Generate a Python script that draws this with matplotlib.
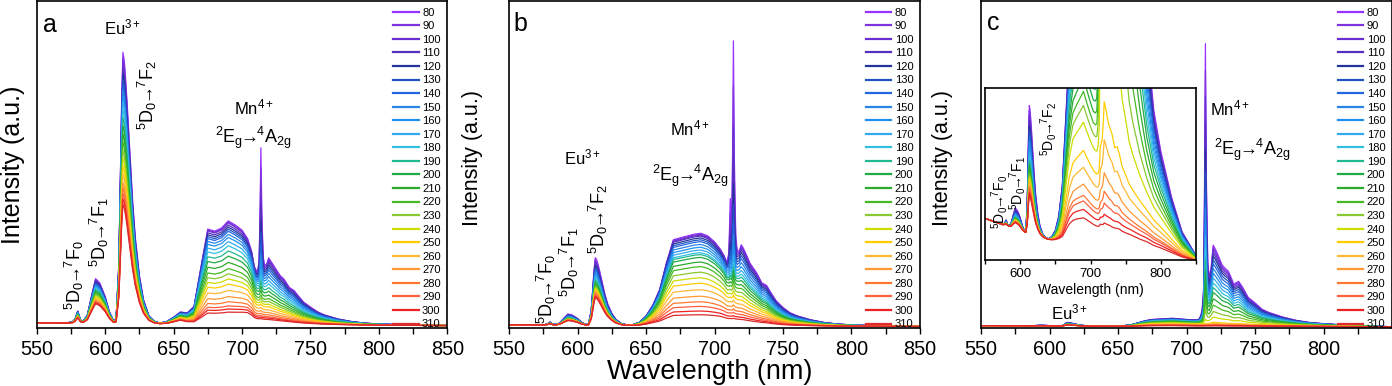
import numpy as np
import matplotlib
matplotlib.use('Agg')
import matplotlib.pyplot as plt
from matplotlib.ticker import MultipleLocator

plt.rcParams['font.family'] = ['Liberation Sans', 'DejaVu Sans']
plt.rcParams['mathtext.fontset'] = 'custom'
plt.rcParams['mathtext.rm'] = 'Liberation Sans'
plt.rcParams['mathtext.it'] = 'Liberation Sans:italic'
plt.rcParams['mathtext.bf'] = 'Liberation Sans:bold'
plt.rcParams['mathtext.default'] = 'regular'

# temperatures (K) and legend colours
temps = [80, 90, 100, 110, 120, 130, 140, 150, 160, 170, 180, 190,
         200, 210, 220, 230, 240, 250, 260, 270, 280, 290, 300, 310]
colors = ['#9933ff', '#7f33dd', '#6a2fd0', '#5530c0', '#23339a', '#2255c8',
          '#2266dd', '#2a85e6', '#1e90f0', '#33aaee', '#33c0e0', '#22b890',
          '#22aa44', '#2daa2d', '#44bb22', '#88c830', '#ccdd00', '#ffcc00',
          '#ffb833', '#ff9933', '#ff7733', '#ff6040', '#ee2222', '#dd2a2a']

# wavelength grid (nm)
wl = np.array([
    550, 560, 570, 576, 578, 580, 582, 584, 587, 590,
    593, 596, 598, 600, 603, 606, 608, 610, 611, 612,
    613, 614, 615, 616, 618, 620, 622, 625, 628, 632,
    636, 640, 645, 650, 655, 660, 665, 670, 675, 680,
    685, 690, 695, 700, 704, 707, 709, 710.5, 711.5, 712.5,
    713.2, 713.8, 714.5, 715.5, 716.5, 718, 719.5, 721, 723, 726,
    728, 730.5, 732.5, 734.5, 738, 741, 745, 750, 755, 760,
    770, 780, 790, 800, 815, 830, 850])

# background
bg = np.array([
    1.00, 0.97, 0.94, 0.92, 0.92, 0.91, 0.91, 0.90, 0.89, 0.88,
    0.87, 0.86, 0.86, 0.85, 0.84, 0.83, 0.82, 0.82, 0.81, 0.81,
    0.81, 0.81, 0.81, 0.81, 0.80, 0.80, 0.79, 0.78, 0.77, 0.76,
    0.75, 0.74, 0.73, 0.72, 0.71, 0.70, 0.70, 0.69, 0.68, 0.68,
    0.67, 0.66, 0.66, 0.65, 0.64, 0.64, 0.64, 0.64, 0.64, 0.64,
    0.64, 0.64, 0.64, 0.64, 0.64, 0.63, 0.63, 0.63, 0.63, 0.63,
    0.63, 0.62, 0.62, 0.62, 0.62, 0.62, 0.61, 0.60, 0.60, 0.59,
    0.57, 0.56, 0.54, 0.53, 0.51, 0.49, 0.47])

# Eu3+ 5D0 -> 7FJ lines
eu = np.array([
    0, 0, 0, 0.004, 0.015, 0.045, 0.012, 0.008, 0.03, 0.1,
    0.165, 0.15, 0.125, 0.1, 0.045, 0.012, 0.015, 0.22, 0.5, 0.8,
    1.0, 0.97, 0.9, 0.82, 0.64, 0.46, 0.32, 0.18, 0.09, 0.03,
    0.01, 0.004, 0.006, 0.018, 0.03, 0.015, 0.005, 0, 0, 0,
    0, 0, 0.004, 0.012, 0.02, 0.01, 0.003, 0, 0, 0,
    0, 0, 0, 0, 0, 0, 0, 0, 0, 0,
    0, 0, 0, 0, 0, 0, 0, 0, 0, 0,
    0, 0, 0, 0, 0, 0, 0])

# Mn4+ vibronic sidebands
vib = np.array([
    0, 0, 0, 0, 0, 0, 0, 0, 0, 0,
    0, 0, 0, 0, 0, 0, 0, 0, 0, 0,
    0, 0, 0, 0, 0, 0, 0, 0, 0, 0,
    0, 0, 0, 0, 0, 0, 0, 0, 0, 0,
    0, 0, 0, 0, 0, 0.005, 0.01, 0.03, 0.05, 0.09,
    0.17, 0.26, 0.35, 0.43, 0.48, 0.7, 1.0, 0.95, 0.87, 0.74,
    0.7, 0.66, 0.58, 0.49, 0.53, 0.45, 0.32, 0.25, 0.17, 0.13,
    0.075, 0.037, 0.017, 0.008, 0.002, 0, 0])

# Mn4+ zero-phonon line (R line) and the 711 nm satellite
zpl = np.array([
    0, 0, 0, 0, 0, 0, 0, 0, 0, 0,
    0, 0, 0, 0, 0, 0, 0, 0, 0, 0,
    0, 0, 0, 0, 0, 0, 0, 0, 0, 0,
    0, 0, 0, 0, 0, 0, 0, 0, 0, 0,
    0, 0, 0, 0, 0, 0, 0, 0.01, 0.03, 0.1,
    0.5, 1.0, 0.45, 0.1, 0.03, 0, 0, 0, 0, 0,
    0, 0, 0, 0, 0, 0, 0, 0, 0, 0,
    0, 0, 0, 0, 0, 0, 0])
r2 = np.array([
    0, 0, 0, 0, 0, 0, 0, 0, 0, 0,
    0, 0, 0, 0, 0, 0, 0, 0, 0, 0,
    0, 0, 0, 0, 0, 0, 0, 0, 0, 0,
    0, 0, 0, 0, 0, 0, 0, 0, 0, 0,
    0, 0, 0, 0, 0, 0, 0, 0.15, 1.0, 0.3,
    0, 0, 0, 0, 0, 0, 0, 0, 0, 0,
    0, 0, 0, 0, 0, 0, 0, 0, 0, 0,
    0, 0, 0, 0, 0, 0, 0])

# Mn4+ broad band, one shape per sample
band_a = np.array([
    0, 0, 0, 0, 0, 0, 0, 0, 0, 0,
    0, 0, 0, 0, 0, 0, 0, 0, 0, 0,
    0, 0, 0, 0, 0, 0, 0, 0, 0, 0,
    0, 0, 0.01, 0.02, 0.04, 0.07, 0.16, 0.55, 0.92, 0.9,
    0.93, 1.0, 0.95, 0.88, 0.78, 0.68, 0.55, 0.5, 0.48, 0.47,
    0.46, 0.45, 0.44, 0.43, 0.42, 0.41, 0.4, 0.38, 0.36, 0.33,
    0.3, 0.28, 0.26, 0.24, 0.2, 0.17, 0.14, 0.11, 0.085, 0.065,
    0.04, 0.025, 0.015, 0.01, 0.005, 0.002, 0])
band_b = np.array([
    0, 0, 0, 0, 0, 0, 0, 0, 0, 0,
    0, 0, 0, 0, 0, 0, 0, 0, 0, 0,
    0, 0, 0, 0, 0, 0, 0, 0, 0, 0,
    0, 0.005, 0.03, 0.09, 0.2, 0.38, 0.68, 0.93, 0.95, 0.97,
    0.99, 1.0, 0.97, 0.9, 0.82, 0.75, 0.68, 0.66, 0.65, 0.64,
    0.63, 0.63, 0.62, 0.61, 0.6, 0.58, 0.56, 0.54, 0.5, 0.44,
    0.41, 0.37, 0.34, 0.31, 0.27, 0.22, 0.17, 0.12, 0.09, 0.07,
    0.045, 0.028, 0.018, 0.012, 0.006, 0.003, 0])
band_c = np.array([
    0, 0, 0, 0, 0, 0, 0, 0, 0, 0,
    0, 0, 0, 0, 0, 0, 0, 0, 0, 0,
    0, 0, 0, 0, 0, 0, 0, 0, 0, 0,
    0, 0, 0.01, 0.03, 0.08, 0.2, 0.45, 0.7, 0.85, 0.9,
    0.95, 1.0, 0.92, 0.85, 0.8, 0.77, 0.76, 0.75, 0.75, 0.75,
    0.75, 0.75, 0.74, 0.74, 0.73, 0.72, 0.72, 0.71, 0.7, 0.69,
    0.68, 0.67, 0.66, 0.66, 0.64, 0.63, 0.61, 0.59, 0.56, 0.54,
    0.49, 0.43, 0.36, 0.3, 0.2, 0.1, 0.02])

# relative intensity of each component vs temperature
eu_frac_a = [1.0, 0.98, 0.96, 0.94, 0.92, 0.9, 0.88, 0.86, 0.84, 0.82, 0.79, 0.76,
             0.73, 0.7, 0.67, 0.64, 0.61, 0.58, 0.55, 0.52, 0.5, 0.48, 0.46, 0.44]
eu_frac_b = [1.0, 0.97, 0.94, 0.91, 0.88, 0.85, 0.82, 0.79, 0.76, 0.73, 0.7, 0.67,
             0.64, 0.61, 0.59, 0.57, 0.55, 0.53, 0.51, 0.49, 0.47, 0.45, 0.43, 0.41]
eu_frac_c = [1.0, 0.96, 0.92, 0.88, 0.84, 0.8, 0.76, 0.72, 0.68, 0.64, 0.6, 0.57,
             0.54, 0.51, 0.48, 0.46, 0.44, 0.42, 0.4, 0.38, 0.36, 0.34, 0.32, 0.3]
band_frac_a = [1.0, 0.99, 0.98, 0.96, 0.94, 0.92, 0.9, 0.87, 0.84, 0.8, 0.76, 0.71,
               0.66, 0.6, 0.54, 0.49, 0.44, 0.39, 0.33, 0.27, 0.22, 0.18, 0.15, 0.12]
band_frac_b = [1.0, 0.99, 0.98, 0.97, 0.95, 0.93, 0.91, 0.88, 0.85, 0.82, 0.79, 0.77,
               0.74, 0.69, 0.64, 0.58, 0.52, 0.46, 0.39, 0.32, 0.26, 0.21, 0.16, 0.12]
band_frac_c = [1.0, 0.98, 0.96, 0.94, 0.92, 0.9, 0.87, 0.84, 0.81, 0.78, 0.74, 0.7,
               0.65, 0.6, 0.55, 0.5, 0.44, 0.34, 0.28, 0.22, 0.18, 0.16, 0.13, 0.1]
vib_frac_a = [1.0, 0.97, 0.93, 0.88, 0.82, 0.75, 0.68, 0.6, 0.52, 0.44, 0.37, 0.3,
              0.24, 0.19, 0.15, 0.12, 0.09, 0.07, 0.05, 0.04, 0.03, 0.02, 0.015, 0.01]
vib_frac_b = [1.0, 0.97, 0.93, 0.88, 0.82, 0.75, 0.68, 0.6, 0.52, 0.44, 0.37, 0.3,
              0.24, 0.19, 0.15, 0.12, 0.09, 0.07, 0.05, 0.04, 0.03, 0.02, 0.015, 0.01]
vib_frac_c = [1.0, 0.97, 0.94, 0.9, 0.86, 0.81, 0.76, 0.7, 0.64, 0.58, 0.52, 0.46,
              0.4, 0.32, 0.24, 0.16, 0.09, 0.03, 0.02, 0.012, 0.008, 0.005, 0.003, 0.002]
zpl_frac_a = [1.0, 0.85, 0.7, 0.57, 0.45, 0.36, 0.28, 0.21, 0.16, 0.12, 0.09, 0.07,
              0.05, 0.04, 0.03, 0.025, 0.02, 0.015, 0.012, 0.01, 0.008, 0.006, 0.004, 0.003]
zpl_frac_b = [1.0, 0.8, 0.62, 0.48, 0.37, 0.28, 0.21, 0.16, 0.12, 0.09, 0.07, 0.055,
              0.045, 0.037, 0.03, 0.025, 0.02, 0.016, 0.013, 0.01, 0.008, 0.006, 0.004, 0.003]
zpl_frac_c = [1.0, 0.9, 0.8, 0.7, 0.6, 0.52, 0.45, 0.39, 0.34, 0.29, 0.25, 0.21,
              0.17, 0.12, 0.08, 0.045, 0.01, 0.001, 0.0005, 0.0003, 0.0002, 0.0001, 0.0001, 0.0001]

# peak heights at 80 K (percent of axis height)
amp_a = dict(bg=1.6, eu=83, band=31.7, vib=7.8, zpl=37.8, r2=0.0)
amp_b = dict(bg=1.0, eu=20.7, band=28.3, vib=9.0, zpl=67.0, r2=0.27)
amp_c = dict(bg=0.72, eu=1.14, band=2.5, vib=23.1, zpl=78.6, r2=0.0)

panels = [
    ('a', amp_a, band_a, eu_frac_a, band_frac_a, vib_frac_a, zpl_frac_a),
    ('b', amp_b, band_b, eu_frac_b, band_frac_b, vib_frac_b, zpl_frac_b),
    ('c', amp_c, band_c, eu_frac_c, band_frac_c, vib_frac_c, zpl_frac_c),
]


def spectra(p):
    name, amp, band, euf, bf, vf, zf = p
    out = []
    for i in range(len(temps)):
        y = (amp['bg'] * bg + amp['eu'] * euf[i] * eu
             + amp['band'] * bf[i] * band + amp['vib'] * vf[i] * vib
             + amp['zpl'] * zf[i] * (zpl + amp['r2'] * r2))
        out.append(y)
    return out


W, H = 1392, 386
fig = plt.figure(figsize=(W / 100, H / 100), dpi=100)


def box(l, r, t, b):
    return [l / W, 1 - b / H, (r - l) / W, (b - t) / H]


ax_a = fig.add_axes(box(36.7, 447.3, 1, 328))
ax_b = fig.add_axes(box(509, 920, 1, 328))
ax_c = fig.add_axes(box(981, 1392, 1, 328))
axes = [ax_a, ax_b, ax_c]

for ax, p in zip(axes, panels):
    for i, y in enumerate(spectra(p)):
        ax.plot(wl, y, color=colors[i], lw=0.9, label=str(temps[i]))
    ax.set_xlim(550, 850)
    ax.set_ylim(0, 100)
    ax.set_yticks([])
    ax.xaxis.set_major_locator(MultipleLocator(50))
    ax.xaxis.set_minor_locator(MultipleLocator(25))
    ax.tick_params(axis='x', which='both', direction='out', length=4, width=1.0,
                   labelsize=14.3, pad=4.5)
    for s in ax.spines.values():
        s.set_linewidth(1.2)
    leg = ax.legend(loc='upper right', fontsize=8, frameon=False, labelspacing=0.32,
                    handlelength=2.3, handletextpad=0.3, borderaxespad=0.1, borderpad=0.5)
    for h in leg.legend_handles:
        h.set_linewidth(1.6)

ax_c.set_xticks([550, 600, 650, 700, 750, 800])
ax_c.set_xticks([575, 625, 675, 725, 775, 825], minor=True)

ax_a.set_ylabel('Intensity (a.u.)', fontsize=18, va='center')
ax_a.yaxis.set_label_coords(-0.0577, 0.5)
ax_b.set_ylabel('Intensity (a.u.)', fontsize=15.5, va='center')
ax_b.yaxis.set_label_coords(-0.0876, 0.52)
ax_c.set_ylabel('Intensity (a.u.)', fontsize=15.5, va='center')
ax_c.yaxis.set_label_coords(-0.0925, 0.52)
ax_b.set_xlabel('Wavelength (nm)', fontsize=19.5, va='center')
ax_b.xaxis.set_label_coords(0.489, -0.135)

f0 = r'$^{5}D_{0}\!\!\rightarrow\!\!{}^{7}F_{0}$'
f1 = r'$^{5}D_{0}\!\!\rightarrow\!\!{}^{7}F_{1}$'
f2 = r'$^{5}D_{0}\!\!\rightarrow\!\!{}^{7}F_{2}$'
mn = r'$^{2}E_{g}\!\!\rightarrow\!\!{}^{4}A_{2g}$'
kw = dict(ha='center', va='center')

ax_a.text(0.0324, 0.927, 'a', fontsize=18, transform=ax_a.transAxes, **kw)
ax_a.text(0.208, 0.92, 'Eu$^{3+}$', fontsize=12, transform=ax_a.transAxes, **kw)
ax_a.text(0.269, 0.713, f2, fontsize=13, rotation=90, transform=ax_a.transAxes, **kw)
ax_a.text(0.152, 0.294, f1, fontsize=13, rotation=90, transform=ax_a.transAxes, **kw)
ax_a.text(0.091, 0.162, f0, fontsize=13, rotation=90, transform=ax_a.transAxes, **kw)
ax_a.text(0.528, 0.674, 'Mn$^{4+}$', fontsize=12, transform=ax_a.transAxes, **kw)
ax_a.text(0.527, 0.583, mn, fontsize=13, transform=ax_a.transAxes, **kw)

ax_b.text(0.028, 0.931, 'b', fontsize=18, transform=ax_b.transAxes, **kw)
ax_b.text(0.179, 0.523, 'Eu$^{3+}$', fontsize=12, transform=ax_b.transAxes, **kw)
ax_b.text(0.217, 0.332, f2, fontsize=13, rotation=90, transform=ax_b.transAxes, **kw)
ax_b.text(0.148, 0.2, f1, fontsize=13, rotation=90, transform=ax_b.transAxes, **kw)
ax_b.text(0.091, 0.119, f0, fontsize=13, rotation=90, transform=ax_b.transAxes, **kw)
ax_b.text(0.44, 0.609, 'Mn$^{4+}$', fontsize=12, transform=ax_b.transAxes, **kw)
ax_b.text(0.44, 0.466, mn, fontsize=13, transform=ax_b.transAxes, **kw)

ax_c.text(0.029, 0.933, 'c', fontsize=18, transform=ax_c.transAxes, **kw)
ax_c.text(0.605, 0.67, 'Mn$^{4+}$', fontsize=12, transform=ax_c.transAxes, **kw)
ax_c.text(0.659, 0.544, mn, fontsize=13, transform=ax_c.transAxes, **kw)
ax_c.text(0.215, 0.047, 'Eu$^{3+}$', fontsize=12, transform=ax_c.transAxes, **kw)

# inset of panel c
ins = fig.add_axes(box(985, 1196, 88, 260))
for i, y in enumerate(spectra(panels[2])):
    ins.plot(wl, y, color=colors[i], lw=0.9)
ins.set_xlim(550, 850)
ins.set_ylim(0.35, 1.88)
ins.set_yticks([])
ins.xaxis.set_major_locator(MultipleLocator(100))
ins.xaxis.set_minor_locator(MultipleLocator(50))
ins.tick_params(axis='x', which='both', direction='out', length=3, width=1.0,
                labelsize=9.5, pad=3)
for s in ins.spines.values():
    s.set_linewidth(1.2)
ins.set_xlabel('Wavelength (nm)', fontsize=10, labelpad=2)
ins.text(0.303, 0.762, f2, fontsize=10, rotation=90, transform=ins.transAxes, **kw)
ins.text(0.152, 0.45, f1, fontsize=10, rotation=90, transform=ins.transAxes, **kw)
ins.text(0.068, 0.34, f0, fontsize=10, rotation=90, transform=ins.transAxes, **kw)

fig.savefig('out.png', dpi=100)
